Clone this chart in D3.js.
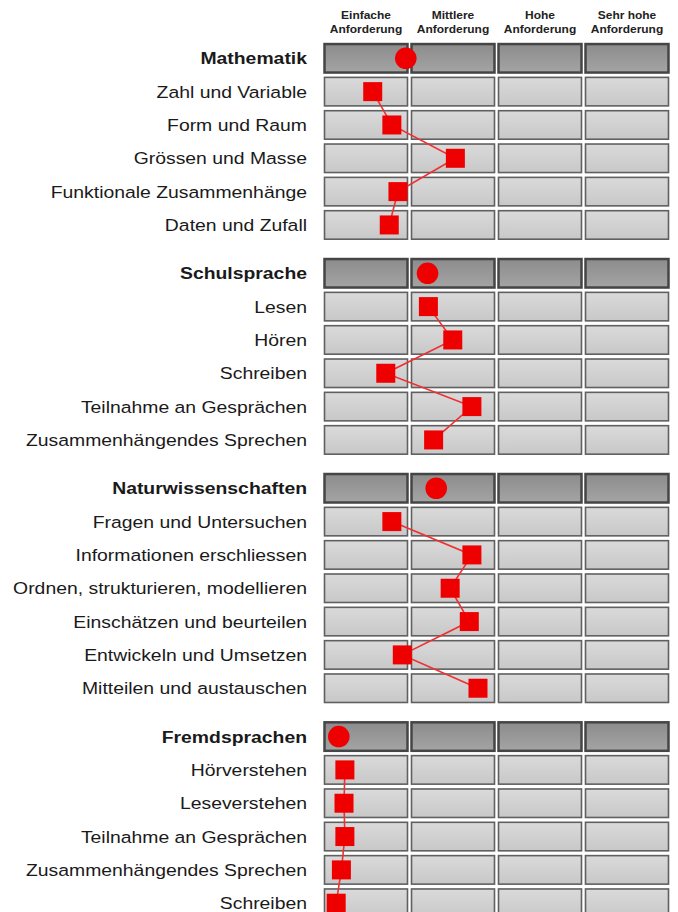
<!DOCTYPE html>
<html><head><meta charset="utf-8">
<script src="https://cdn.jsdelivr.net/npm/d3@7"></script>
<style>body{margin:0;background:#fff;}svg{display:block;}</style>
</head><body>
<script>
const levels = ["Einfache Anforderung", "Mittlere Anforderung", "Hohe Anforderung", "Sehr hohe Anforderung"];

const groups = ["Mathematik", "Schulsprache", "Naturwissenschaften", "Fremdsprachen"];
const groupValues = [0.94, 1.19, 1.29, 0.17];

const mathItems = ["Zahl und Variable", "Form und Raum", "Grössen und Masse", "Funktionale Zusammenhänge", "Daten und Zufall"];
const mathValues = [0.56, 0.78, 1.51, 0.85, 0.75];

const schulItems = ["Lesen", "Hören", "Schreiben", "Teilnahme an Gesprächen", "Zusammenhängendes Sprechen"];
const schulValues = [1.20, 1.48, 0.71, 1.70, 1.26];

const naturItems = ["Fragen und Untersuchen", "Informationen erschliessen", "Ordnen, strukturieren, modellieren", "Einschätzen und beurteilen", "Entwickeln und Umsetzen", "Mitteilen und austauschen"];
const naturValues = [0.78, 1.70, 1.45, 1.67, 0.90, 1.77];

const fremdItems = ["Hörverstehen", "Leseverstehen", "Teilnahme an Gesprächen", "Zusammenhängendes Sprechen", "Schreiben"];
const fremdValues = [0.24, 0.23, 0.24, 0.20, 0.14];

const itemLists = [mathItems, schulItems, naturItems, fremdItems];
const valueLists = [mathValues, schulValues, naturValues, fremdValues];

const W = 678, H = 912;
const svg = d3.select("body").append("svg").attr("width", W).attr("height", H);

const defs = svg.append("defs");
const gH = defs.append("linearGradient").attr("id", "gHead").attr("x1", 0).attr("y1", 0).attr("x2", 0).attr("y2", 1);
gH.append("stop").attr("offset", "0%").attr("stop-color", "#8c8c8c");
gH.append("stop").attr("offset", "100%").attr("stop-color", "#a4a4a4");
const gC = defs.append("linearGradient").attr("id", "gCell").attr("x1", 0).attr("y1", 0).attr("x2", 0).attr("y2", 1);
gC.append("stop").attr("offset", "0%").attr("stop-color", "#dadada");
gC.append("stop").attr("offset", "100%").attr("stop-color", "#c8c8c8");

const x = d3.scaleLinear().domain([0, 4]).range([324, 672]);
const gapSlots = 0.45;
const y = d3.scaleLinear().domain([0, 1]).range([58.3, 91.63]);
const stretch = 1.14;
const FONT = "Liberation Sans, Arial, sans-serif";

// build rows
const rows = [];
let idx = 0;
groups.forEach((g, gi) => {
  rows.push({label: g, value: groupValues[gi], header: true, group: gi, slot: idx + gi * gapSlots});
  idx++;
  itemLists[gi].forEach((it, ii) => {
    rows.push({label: it, value: valueLists[gi][ii], header: false, group: gi, slot: idx + gi * gapSlots});
    idx++;
  });
});

// column header labels
const colW = x(1) - x(0);
levels.forEach((lv, i) => {
  const parts = lv.split(" ");
  const line1 = parts.length > 2 ? parts.slice(0, 2).join(" ") : parts[0];
  const line2 = parts[parts.length - 1];
  const t = svg.append("text").attr("text-anchor", "middle")
    .attr("transform", `translate(${x(i) + (colW - 3) / 2},0) scale(${stretch},1)`)
    .attr("font-family", FONT).attr("font-size", "10.5px")
    .attr("font-weight", "bold").attr("fill", "#222");
  t.append("tspan").attr("x", 0).attr("y", 19).text(line1);
  t.append("tspan").attr("x", 0).attr("y", 33).text(line2);
});

const cellH = 28.5;
// cells
rows.forEach(r => {
  const cy = y(r.slot);
  for (let c = 0; c < 4; c++) {
    svg.append("rect")
      .attr("x", x(c) + 0.5)
      .attr("y", cy - cellH / 2)
      .attr("width", colW - 4)
      .attr("height", cellH)
      .attr("fill", r.header ? "url(#gHead)" : "url(#gCell)")
      .attr("stroke", r.header ? "#454545" : "#606060")
      .attr("stroke-width", r.header ? 2.5 : 1.6);
  }
  svg.append("text")
    .attr("transform", `translate(307,${cy}) scale(${stretch},1)`)
    .attr("dy", "0.36em")
    .attr("text-anchor", "end")
    .attr("font-family", FONT)
    .attr("font-size", "17px")
    .attr("font-weight", r.header ? "bold" : "normal")
    .attr("fill", "#1a1a1a")
    .text(r.label);
});

// lines per group
const line = d3.line().x(d => x(d.value)).y(d => y(d.slot));
groups.forEach((g, gi) => {
  const pts = rows.filter(r => r.group === gi && !r.header);
  svg.append("path").attr("d", line(pts)).attr("fill", "none")
    .attr("stroke", "#f03030").attr("stroke-width", 1.6);
});

// markers
const sq = 19;
rows.forEach(r => {
  const cx = x(r.value), cy = y(r.slot);
  if (r.header) {
    svg.append("circle").attr("cx", cx).attr("cy", cy).attr("r", 10.8).attr("fill", "#ee0000");
  } else {
    svg.append("rect").attr("x", cx - sq / 2).attr("y", cy - sq / 2).attr("width", sq).attr("height", sq)
      .attr("fill", "#ee0000");
  }
});
</script>
</body></html>
